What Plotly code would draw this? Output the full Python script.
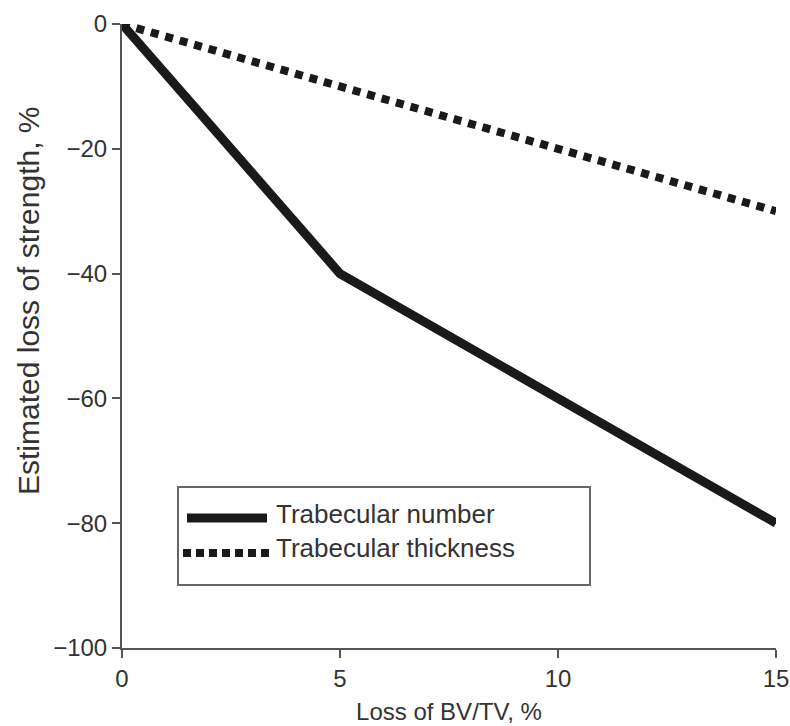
import plotly.graph_objects as go

# data
bvtv_loss = [0, 5, 15]
number_strength = [0, -40, -80]
thick_x = [0, 15]
thick_strength = [0, -30]

series_names = ["Trabecular number", "Trabecular thickness"]
x_ticks = [0, 5, 10, 15]
y_ticks = [-100, -80, -60, -40, -20, 0]

FONT = "Arial, Liberation Sans, Helvetica, sans-serif"
TEXT = "#333333"
AXIS = "#555555"
LINE = "#1a1a1a"

W, H = 790, 726
# plot area in pixels, used to place the hand-made legend
L, R, T, B = 122, 776, 24, 648


def px_x(p):
    return (p - L) / (R - L)


def px_y(p):
    return (B - p) / (B - T)


fig = go.Figure()
fig.add_trace(go.Scatter(x=bvtv_loss, y=number_strength, mode="lines",
                         name=series_names[0],
                         line=dict(color=LINE, width=9)))
fig.add_trace(go.Scatter(x=thick_x, y=thick_strength, mode="lines",
                         name=series_names[1],
                         line=dict(color=LINE, width=8, dash="8px,7px")))

fig.update_layout(
    width=W, height=H,
    margin=dict(l=L, r=W - R, t=T, b=H - B),
    plot_bgcolor="white", paper_bgcolor="white",
    showlegend=False,
    font=dict(family=FONT, color=TEXT),
)
fig.update_xaxes(range=[0, 15], tickvals=x_ticks, showgrid=False, zeroline=False,
                 automargin=False,
                 showline=True, linecolor=AXIS, linewidth=2,
                 ticks="outside", ticklen=8, tickwidth=2, tickcolor=AXIS,
                 tickfont=dict(size=24, color=TEXT),
                 title=dict(text="Loss of BV/TV, %", font=dict(size=24, color=TEXT), standoff=12))
fig.update_yaxes(range=[-100, 0], tickvals=y_ticks, showgrid=False, zeroline=False,
                 automargin=False,
                 showline=True, linecolor=AXIS, linewidth=2,
                 ticks="outside", ticklen=8, tickwidth=2, tickcolor=AXIS,
                 tickfont=dict(size=24, color=TEXT))

# y title sits a bit above the axis centre in the original
fig.add_annotation(text="Estimated loss of strength, %", textangle=-90,
                   xref="paper", yref="paper", x=0, y=px_y(301),
                   xshift=-(L - 28), xanchor="center", yanchor="middle",
                   showarrow=False, font=dict(size=30, color=TEXT))

# legend box drawn by hand so the line samples are as long as in the original
fig.add_shape(type="rect", xref="paper", yref="paper",
              x0=px_x(178), x1=px_x(590), y0=px_y(585), y1=px_y(487),
              line=dict(color="#666666", width=2), fillcolor="white")
fig.add_shape(type="line", xref="paper", yref="paper",
              x0=px_x(187), x1=px_x(267), y0=px_y(518), y1=px_y(518),
              line=dict(color=LINE, width=9))
fig.add_shape(type="line", xref="paper", yref="paper",
              x0=px_x(183), x1=px_x(269), y0=px_y(553), y1=px_y(553),
              line=dict(color=LINE, width=8, dash="8px,5px"))
for name, ypx in zip(series_names, [514, 548]):
    fig.add_annotation(text=name, xref="paper", yref="paper",
                       x=px_x(274), y=px_y(ypx), xanchor="left", yanchor="middle",
                       showarrow=False, font=dict(size=26, color=TEXT))

# drop the default body margin so the figure fills the window exactly
fig.write_html("out.html", config={"displayModeBar": False},
               post_script="document.body.style.margin='0';"
                           "document.documentElement.style.overflow='hidden';")
